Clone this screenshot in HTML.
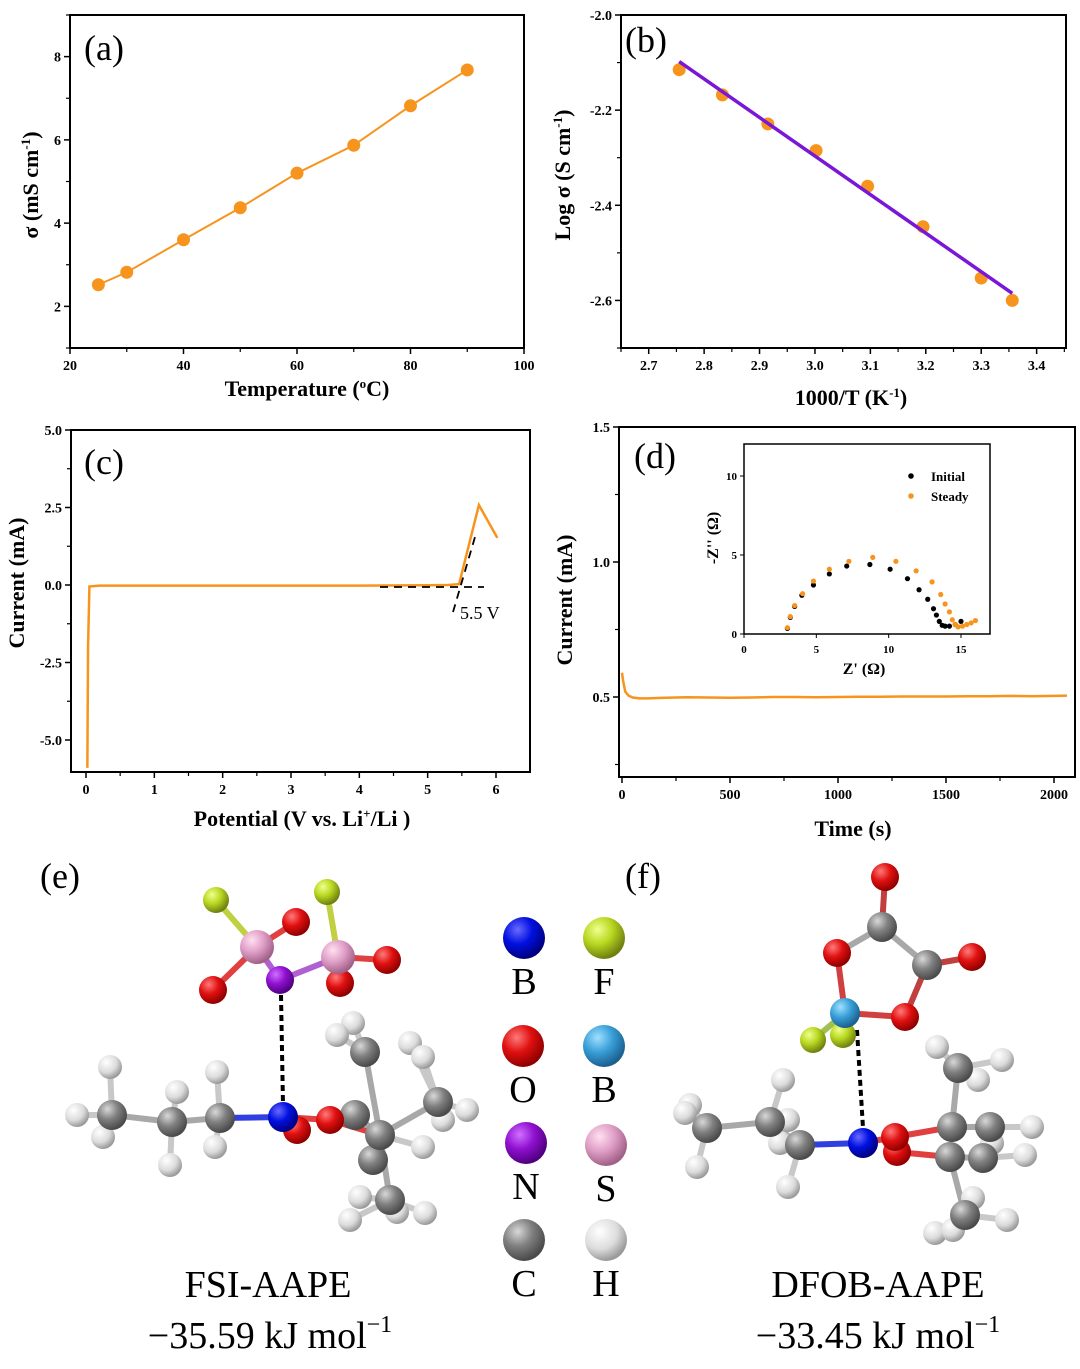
<!DOCTYPE html>
<html><head><meta charset="utf-8"><style>
html,body{margin:0;padding:0;background:#fff;}
svg text{font-family:"Liberation Serif",serif;}
.tk{font-size:14px;font-weight:bold;}
.ti{font-size:22px;font-weight:bold;}
.pl{font-size:36px;}
</style></head><body>
<svg id="s" width="1080" height="1364" viewBox="0 0 1080 1364" xmlns="http://www.w3.org/2000/svg">
<defs>
<radialGradient id="gC" cx="35%" cy="30%" r="70%"><stop offset="0" stop-color="#d8d8d8"/><stop offset="0.5" stop-color="#808080"/><stop offset="1" stop-color="#4a4a4a"/></radialGradient>
<radialGradient id="gH" cx="35%" cy="30%" r="70%"><stop offset="0" stop-color="#ffffff"/><stop offset="0.6" stop-color="#dcdcdc"/><stop offset="1" stop-color="#9a9a9a"/></radialGradient>
<radialGradient id="gO" cx="35%" cy="30%" r="70%"><stop offset="0" stop-color="#ff7a7a"/><stop offset="0.5" stop-color="#e01010"/><stop offset="1" stop-color="#900000"/></radialGradient>
<radialGradient id="gN" cx="35%" cy="30%" r="70%"><stop offset="0" stop-color="#6a6aff"/><stop offset="0.5" stop-color="#0010e0"/><stop offset="1" stop-color="#000080"/></radialGradient>
<radialGradient id="gP" cx="35%" cy="30%" r="70%"><stop offset="0" stop-color="#d070ff"/><stop offset="0.5" stop-color="#9010d0"/><stop offset="1" stop-color="#500080"/></radialGradient>
<radialGradient id="gS" cx="35%" cy="30%" r="70%"><stop offset="0" stop-color="#ffe0f0"/><stop offset="0.5" stop-color="#e0a0c8"/><stop offset="1" stop-color="#a06088"/></radialGradient>
<radialGradient id="gF" cx="35%" cy="30%" r="70%"><stop offset="0" stop-color="#f0ff90"/><stop offset="0.5" stop-color="#b8d820"/><stop offset="1" stop-color="#708010"/></radialGradient>
<radialGradient id="gB" cx="35%" cy="30%" r="70%"><stop offset="0" stop-color="#a0e0ff"/><stop offset="0.5" stop-color="#3aa0d8"/><stop offset="1" stop-color="#1a6090"/></radialGradient>
</defs>
<g id="charts"></g>
<g id="mol"></g>
<g id="txt">
<text x="40" y="888" class="pl">(e)</text>
<text x="625" y="888" class="pl">(f)</text>
<text x="268" y="1297" font-size="38" text-anchor="middle">FSI-AAPE</text>
<text x="270" y="1348" font-size="38" text-anchor="middle">−35.59 kJ mol<tspan dy="-16" font-size="24">−1</tspan></text>
<text x="878" y="1297" font-size="38" text-anchor="middle">DFOB-AAPE</text>
<text x="878" y="1348" font-size="38" text-anchor="middle">−33.45 kJ mol<tspan dy="-16" font-size="24">−1</tspan></text>
</g>
</svg>
<script>
const NS='http://www.w3.org/2000/svg';
const charts=document.getElementById('charts');
function mk(tag,attrs,parent,text){const e=document.createElementNS(NS,tag);for(const k in attrs)e.setAttribute(k,attrs[k]);if(text!==undefined)e.textContent=text;(parent||charts).appendChild(e);return e;}

// ---- Panel a data
const aTemps=[25,30,40,50,60,70,80,90];
const aSigma=[2.52,2.82,3.6,4.37,5.2,5.87,6.82,7.68];
const aXTicks=[20,40,60,80,100];
const aYTicks=[2,4,6,8];
// ---- Panel b data
const bInvT=[2.755,2.833,2.915,3.002,3.095,3.195,3.30,3.356];
const bLogS=[-2.115,-2.168,-2.229,-2.285,-2.36,-2.445,-2.553,-2.60];
const bFitX=[2.755,3.356];
const bFitY=[-2.098,-2.585];
const bXTicks=[2.7,2.8,2.9,3.0,3.1,3.2,3.3,3.4];
const bYTicks=[-2.0,-2.2,-2.4,-2.6];
// ---- Panel c data
const cV=[0.02,0.03,0.05,0.2,1,2,3,4,5,5.3,5.46,5.75,6.02];
const cI=[-5.9,-2.0,-0.05,-0.02,-0.02,-0.02,-0.02,-0.02,-0.01,0.0,0.03,2.58,1.52];
const cXTicks=[0,1,2,3,4,5,6];
const cYTicks=[5.0,2.5,0.0,-2.5,-5.0];
// ---- Panel d data
const dT=[0,5,15,30,50,80,120,200,300,400,500,600,700,800,900,1000,1100,1200,1300,1400,1500,1600,1700,1800,1900,2000,2060];
const dI=[0.59,0.56,0.52,0.505,0.498,0.495,0.495,0.497,0.499,0.498,0.497,0.498,0.5,0.5,0.499,0.5,0.501,0.501,0.502,0.502,0.502,0.503,0.503,0.504,0.503,0.504,0.505];
const dXTicks=[0,500,1000,1500,2000];
const dYTicks=[1.5,1.0,0.5];
const inInitX=[3,3.2,3.5,4,4.8,5.9,7.1,8.7,10.1,11.3,12.1,12.7,13.1,13.3,13.5,13.7,13.9,14.2,14.6,15];
const inInitY=[0.35,1.05,1.75,2.45,3.1,3.8,4.3,4.4,4.1,3.5,2.8,2.2,1.6,1.2,0.8,0.55,0.5,0.5,0.6,0.8];
const inSteadyX=[3,3.2,3.5,4.05,4.8,5.9,7.25,8.9,10.5,11.9,13,13.6,13.9,14.2,14.4,14.6,14.8,15.1,15.4,15.7,16];
const inSteadyY=[0.4,1.1,1.8,2.55,3.35,4.1,4.6,4.85,4.6,4.0,3.3,2.5,1.9,1.4,0.9,0.6,0.45,0.5,0.6,0.7,0.85];
const inXTicks=[0,5,10,15];
const inYTicks=[0,5,10];

function lin(d0,d1,p0,p1){return v=>p0+(v-d0)*(p1-p0)/(d1-d0);}
function frame(x0,y0,x1,y1,name,w){mk('rect',{x:x0,y:y0,width:x1-x0,height:y1-y0,fill:'none',stroke:'#000','stroke-width':w||2,});}
function xTicks(ticks,X,yb,fmt,minor,fs){ticks.forEach(t=>{mk('line',{x1:X(t),x2:X(t),y1:yb,y2:yb+6,stroke:'#000','stroke-width':1.5});const e=mk('text',{x:X(t),y:yb+22,class:'tk','text-anchor':'middle','font-size':fs||14},undefined,fmt(t));});(minor||[]).forEach(t=>mk('line',{x1:X(t),x2:X(t),y1:yb,y2:yb+4,stroke:'#000','stroke-width':1.2}));}
function yTicks(ticks,Y,xl,fmt,minor,fs){ticks.forEach(t=>{mk('line',{x1:xl-6,x2:xl,y1:Y(t),y2:Y(t),stroke:'#000','stroke-width':1.5});const e=mk('text',{x:xl-9,y:Y(t)+5,class:'tk','text-anchor':'end','font-size':fs||14},undefined,fmt(t));});(minor||[]).forEach(t=>mk('line',{x1:xl-4,x2:xl,y1:Y(t),y2:Y(t),stroke:'#000','stroke-width':1.2}));}
const OR='#f7941d';

// Panel a
{const X=lin(20,100,70,524),Y=lin(1,9,348,15);
frame(70,15,524,348,'panel-a-frame');
xTicks(aXTicks,X,348,t=>t,[30,50,70,90]);
yTicks(aYTicks,Y,70,t=>t,[1,3,5,7,9]);
const p=mk('polyline',{points:aTemps.map((t,i)=>X(t)+','+Y(aSigma[i])).join(' '),fill:'none',stroke:OR,'stroke-width':2});

aTemps.forEach((t,i)=>{const c=mk('circle',{cx:X(t),cy:Y(aSigma[i]),r:6.5,fill:OR});});
mk('text',{x:84,y:60,class:'pl',},undefined,'(a)');
const xt=mk('text',{x:307,y:396,class:'ti','text-anchor':'middle'},undefined,'');xt.innerHTML='Temperature (<tspan dy="-8" font-size="13">o</tspan><tspan dy="8">C)</tspan>';
const yt=mk('text',{x:0,y:0,class:'ti','text-anchor':'middle',transform:'translate(38,185) rotate(-90)'});yt.innerHTML='σ (mS cm<tspan dy="-8" font-size="13">-1</tspan><tspan dy="8">)</tspan>';}

// Panel b
{const X=lin(2.65,3.453,621,1066),Y=lin(-2.0,-2.7,15,348);
frame(621,15,1066,348,'panel-b-frame');
xTicks(bXTicks,X,348,t=>t.toFixed(1),[2.65,2.75,2.85,2.95,3.05,3.15,3.25,3.35,3.45]);
yTicks(bYTicks,Y,621,t=>t.toFixed(1),[-2.1,-2.3,-2.5,-2.7]);
bInvT.forEach((t,i)=>{const c=mk('circle',{cx:X(t),cy:Y(bLogS[i]),r:6.5,fill:OR});});
const l=mk('line',{x1:X(bFitX[0]),y1:Y(bFitY[0]),x2:X(bFitX[1]),y2:Y(bFitY[1]),stroke:'#7a16d6','stroke-width':3.5});
mk('text',{x:625,y:52,class:'pl',},undefined,'(b)');
const xt=mk('text',{x:851,y:405,class:'ti','text-anchor':'middle'});xt.innerHTML='1000/T (K<tspan dy="-8" font-size="13">-1</tspan><tspan dy="8">)</tspan>';
const yt=mk('text',{x:0,y:0,class:'ti','text-anchor':'middle',transform:'translate(570,175) rotate(-90)'});yt.innerHTML='Log σ (S cm<tspan dy="-8" font-size="13">-1</tspan><tspan dy="8">)</tspan>';}

// Panel c
{const X=lin(0,6,86,496),Y=lin(0,-5,585,740);
frame(71,430,530,772,'panel-c-frame');
xTicks(cXTicks,X,772,t=>t,[0.5,1.5,2.5,3.5,4.5,5.5]);
yTicks(cYTicks,Y,71,t=>t.toFixed(1),[3.75,1.25,-1.25,-3.75]);
const p=mk('polyline',{points:cV.map((v,i)=>X(v)+','+Y(cI[i])).join(' '),fill:'none',stroke:OR,'stroke-width':2.5});
mk('line',{x1:380,y1:587,x2:484,y2:587,stroke:'#000','stroke-width':1.8,'stroke-dasharray':'8,6',});
mk('line',{x1:453,y1:612,x2:475,y2:537,stroke:'#000','stroke-width':1.8,'stroke-dasharray':'8,6',});
mk('text',{x:460,y:619,'font-size':18,},undefined,'5.5 V');
mk('text',{x:84,y:474,class:'pl',},undefined,'(c)');
const xt=mk('text',{x:302,y:826,class:'ti','text-anchor':'middle'});xt.innerHTML='Potential (V vs. Li<tspan dy="-8" font-size="13">+</tspan><tspan dy="8">/Li )</tspan>';
const yt=mk('text',{x:0,y:0,class:'ti','text-anchor':'middle',transform:'translate(24,583) rotate(-90)'},undefined,'Current (mA)');}

// Panel d
{const X=lin(0,2000,622,1054),Y=lin(1.0,0.5,562,697);
frame(619,427,1075,777,'panel-d-frame');
xTicks(dXTicks,X,777,t=>t,[250,750,1250,1750],15);
yTicks(dYTicks,Y,619,t=>t.toFixed(1),[1.25,0.75,0.25],15);
const p=mk('polyline',{points:dT.map((t,i)=>X(t)+','+Y(dI[i])).join(' '),fill:'none',stroke:OR,'stroke-width':2.5});
mk('text',{x:634,y:468,class:'pl',},undefined,'(d)');
const xt=mk('text',{x:853,y:836,class:'ti','text-anchor':'middle','font-size':24},undefined,'Time (s)');
const yt=mk('text',{x:0,y:0,class:'ti','text-anchor':'middle','font-size':24,transform:'translate(572,600) rotate(-90)'},undefined,'Current (mA)');
// inset
const IX=lin(0,15,744,961),IY=lin(0,10,634,476);
frame(744,444,990,634,'inset-frame',1.5);
inXTicks.forEach(t=>{mk('line',{x1:IX(t),x2:IX(t),y1:634,y2:638,stroke:'#000'});const e=mk('text',{x:IX(t),y:653,'font-size':11,'font-weight':'bold','text-anchor':'middle'},undefined,t);});
inYTicks.forEach(t=>{mk('line',{x1:740,x2:744,y1:IY(t),y2:IY(t),stroke:'#000'});const e=mk('text',{x:737,y:IY(t)+4,'font-size':11,'font-weight':'bold','text-anchor':'end'},undefined,t);});
inInitX.forEach((x,i)=>{const c=mk('circle',{cx:IX(x),cy:IY(inInitY[i]),r:2.6,fill:'#000'});});
inSteadyX.forEach((x,i)=>{const c=mk('circle',{cx:IX(x),cy:IY(inSteadyY[i]),r:2.6,fill:OR});});
mk('circle',{cx:911,cy:476,r:2.8,fill:'#000',});
mk('text',{x:931,y:481,'font-size':13,'font-weight':'bold',},undefined,'Initial');
mk('circle',{cx:911,cy:496,r:2.8,fill:OR,});
mk('text',{x:931,y:501,'font-size':13,'font-weight':'bold',},undefined,'Steady');
mk('text',{x:864,y:674,'font-size':16,'font-weight':'bold','text-anchor':'middle',},undefined,"Z' (Ω)");
mk('text',{x:0,y:0,'font-size':16,'font-weight':'bold','text-anchor':'middle',transform:'translate(718,538) rotate(-90)',},undefined,"-Z'' (Ω)");}

// ---- Molecules
const mol=document.getElementById('mol');
const G={C:'url(#gC)',H:'url(#gH)',O:'url(#gO)',N:'url(#gN)',P:'url(#gP)',S:'url(#gS)',F:'url(#gF)',B:'url(#gB)'};
const R={C:15,H:12,O:14,N:15,P:14,S:17,F:13,B:15};
function bond(a,b,col){mk('line',{x1:a[0],y1:a[1],x2:b[0],y2:b[1],stroke:col||'#a8a8a8','stroke-width':6,'stroke-linecap':'round'},mol);}
function atom(p,t,name){const c=mk('circle',{cx:p[0],cy:p[1],r:R[t],fill:G[t]},mol);}
// FSI-AAPE
const eF=[[216,900],[327,892]],eS=[[257,947],[338,957]],eO=[[296,922],[213,990],[387,960],[340,983]],eNp=[280,980];
bond(eS[0],eF[0],'#c0d040');bond(eS[1],eF[1],'#c0d040');bond(eS[0],eO[0],'#e04040');bond(eS[0],eO[1],'#e04040');bond(eS[1],eO[2],'#e04040');bond(eS[1],eO[3],'#e04040');bond(eS[0],eNp,'#b060d0');bond(eS[1],eNp,'#b060d0');
const eC=[[112,1115],[172,1122],[220,1118],[365,1052],[438,1102],[355,1115],[380,1135],[373,1160],[390,1200]];
const eH=[[110,1067],[77,1115],[103,1137],[177,1092],[170,1165],[217,1072],[215,1147],[353,1023],[337,1035],[410,1043],[423,1057],[467,1110],[443,1120],[423,1147],[360,1197],[350,1220],[397,1212],[425,1213]];
const eHb=[0,0,0,1,1,2,2,3,3,4,4,4,4,6,8,8,8,8];
eH.forEach((h,i)=>bond(h,eC[eHb[i]],'#c8c8c8'));
bond(eC[0],eC[1]);bond(eC[1],eC[2]);bond(eC[2],[283,1117],'#3040e0');bond([283,1117],[330,1120],'#e04040');bond([330,1120],eC[6],'#e04040');
bond(eC[6],eC[3]);bond(eC[6],eC[4]);bond(eC[6],eC[8]);bond(eC[5],eC[6]);
mk('line',{x1:281,y1:995,x2:283,y2:1105,stroke:'#000','stroke-width':4,'stroke-dasharray':'6,4',},mol);
eF.forEach(p=>atom(p,'F','fluorine-atom'));eO.forEach(p=>atom(p,'O','oxygen-atom'));eS.forEach(p=>atom(p,'S','sulfur-atom'));atom(eNp,'P','nitrogen-atom');
eH.forEach(p=>atom(p,'H','hydrogen-atom'));
[eC[0],eC[1],eC[2],eC[3],eC[4],eC[5]].forEach(p=>atom(p,'C','carbon-atom'));
atom([297,1130],'O','oxygen-atom');atom([283,1117],'N','nitrogen-atom');atom([330,1120],'O','oxygen-atom');
[eC[7],eC[6],eC[8]].forEach(p=>atom(p,'C','carbon-atom'));
// DFOB-AAPE
const fO=[[885,877],[837,953],[972,957],[905,1017]],fCa=[[882,927],[927,965]],fB=[845,1013],fF=[[813,1040],[843,1035]];
bond(fO[0],fCa[0],'#c04040');bond(fCa[0],fO[1]);bond(fCa[0],fCa[1]);bond(fCa[1],fO[2],'#c04040');bond(fCa[1],fO[3],'#c04040');bond(fO[1],fB,'#d04040');bond(fO[3],fB,'#d04040');bond(fB,fF[0],'#a0c050');bond(fB,fF[1],'#a0c050');
const fC=[[707,1128],[770,1122],[800,1145],[958,1068],[952,1127],[990,1127],[950,1157],[983,1158],[965,1215]];
const fH=[[690,1105],[685,1113],[697,1167],[783,1080],[788,1120],[780,1143],[788,1187],[937,1047],[1002,1060],[978,1080],[1032,1127],[1025,1155],[992,1143],[973,1198],[935,1233],[953,1230],[1007,1220]];
const fHb=[0,0,0,1,1,2,2,3,3,3,5,7,7,8,8,8,8];
fH.forEach((h,i)=>bond(h,fC[fHb[i]],'#c8c8c8'));
bond(fC[0],fC[1]);bond(fC[1],fC[2]);bond(fC[2],[863,1143],'#3040e0');bond([863,1143],[895,1137],'#e04040');bond([895,1137],fC[4],'#e04040');bond([897,1152],fC[6],'#e04040');
bond(fC[4],fC[3]);bond(fC[4],fC[5]);bond(fC[6],fC[8]);bond(fC[6],fC[7]);bond(fC[5],fC[7]);
mk('line',{x1:857,y1:1030,x2:863,y2:1128,stroke:'#000','stroke-width':4,'stroke-dasharray':'6,4',},mol);
fO.forEach(p=>atom(p,'O','oxygen-atom'));fCa.forEach(p=>atom(p,'C','carbon-atom'));atom(fF[1],'F','fluorine-atom');atom(fB,'B','boron-atom');atom(fF[0],'F','fluorine-atom');
fH.forEach(p=>atom(p,'H','hydrogen-atom'));
fC.forEach(p=>atom(p,'C','carbon-atom'));
atom([897,1152],'O','oxygen-atom');atom([895,1137],'O','oxygen-atom');atom([863,1143],'N','nitrogen-atom');
// Legend
const legT=['N','F','O','B','P','S','C','H'],legL=['B','F','O','B','N','S','C','H'];
const legX=[524,604,523,604,526,606,524,606],legY=[938,938,1046,1046,1143,1145,1240,1240];
legT.forEach((t,i)=>{const c=mk('circle',{cx:legX[i],cy:legY[i],r:21,fill:G[t]},mol);
const e=mk('text',{x:legX[i],y:legY[i]+56,'font-size':38,'text-anchor':'middle'},mol,legL[i]);});
</script>
</body></html>
